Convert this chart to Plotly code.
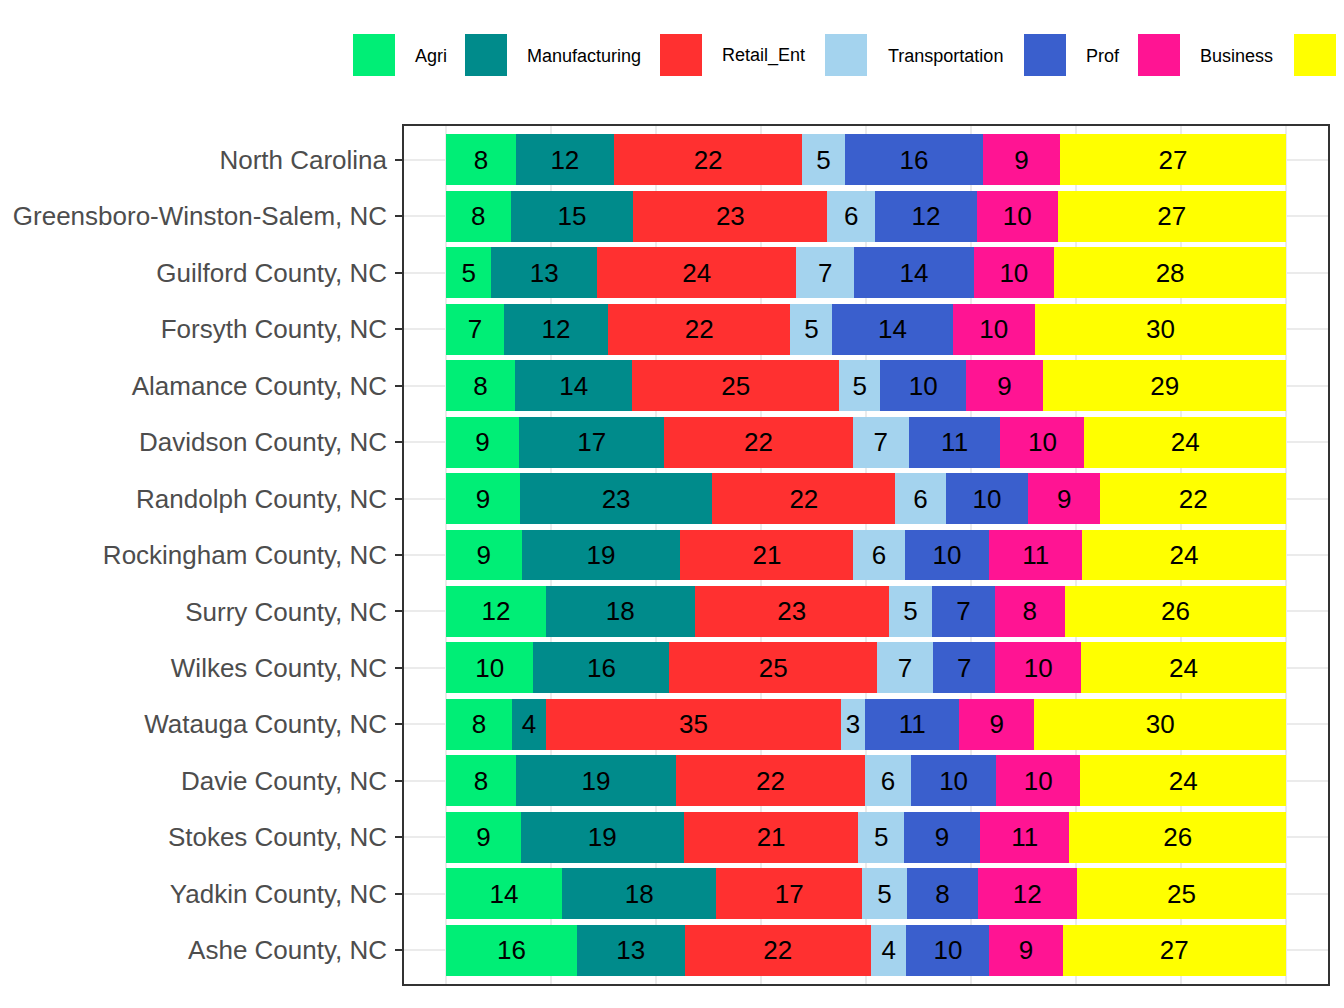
import plotly.graph_objects as go

categories = ["North Carolina", "Greensboro-Winston-Salem, NC", "Guilford County, NC",
              "Forsyth County, NC", "Alamance County, NC", "Davidson County, NC",
              "Randolph County, NC", "Rockingham County, NC", "Surry County, NC",
              "Wilkes County, NC", "Watauga County, NC", "Davie County, NC",
              "Stokes County, NC", "Yadkin County, NC", "Ashe County, NC"]

agri = [8.3, 7.7, 5.4, 6.9, 8.2, 8.7, 8.8, 9.0, 11.9, 10.4, 7.86, 8.33, 8.9, 13.8, 15.6]
manufacturing = [11.7, 14.6, 12.6, 12.4, 14.0, 17.3, 22.9, 18.9, 17.7, 16.2, 4.05, 19.05, 19.4, 18.4, 12.8]
retail_ent = [22.4, 23.1, 23.7, 21.7, 24.6, 22.4, 21.8, 20.6, 23.1, 24.7, 35.1, 22.45, 20.8, 17.3, 22.2]
transportation = [5.1, 5.7, 6.9, 5.0, 4.9, 6.7, 6.0, 6.1, 5.2, 6.7, 2.9, 5.56, 5.4, 5.4, 4.2]
prof = [16.4, 12.1, 14.2, 14.3, 10.2, 10.9, 9.8, 10.1, 7.4, 7.4, 11.2, 10.04, 9.1, 8.4, 9.9]
business = [9.2, 9.6, 9.6, 9.8, 9.2, 10.0, 8.6, 11.0, 8.4, 10.2, 8.93, 10.08, 10.6, 11.8, 8.7]
other = [26.9, 27.2, 27.6, 29.9, 28.9, 24.0, 22.1, 24.3, 26.3, 24.4, 29.96, 24.46, 25.8, 24.9, 26.6]

series_names = ["Agri", "Manufacturing", "Retail_Ent", "Transportation", "Prof", "Business", "Other"]
series_values = [agri, manufacturing, retail_ent, transportation, prof, business, other]
series_colors = ["#00EE76", "#008B8B", "#FF3030", "#A4D3EE", "#3A5FCD", "#FF1493", "#FFFF00"]

FONT = "Liberation Sans, Arial, sans-serif"

fig = go.Figure()
for name, vals, col in zip(series_names, series_values, series_colors):
    fig.add_trace(go.Bar(
        y=categories, x=vals, name=name, orientation="h",
        marker=dict(color=col, line=dict(width=0)),
        width=0.9,
        text=[f"{v:.0f}" for v in vals],
        texttemplate="%{text}",
        textposition="inside", insidetextanchor="middle",
        textangle=0, constraintext="none",
        textfont=dict(family=FONT, size=26, color="black"),
        showlegend=False,
        hoverinfo="x+y+name",
    ))

# page has an 8px body margin: work in reference pixels minus 8
OFF = 8
W, H = 1344 - OFF, 1008 - OFF
L, R, T, B = 404 - OFF, 1328 - OFF, 126 - OFF, 984 - OFF
def px(x):
    return (x - OFF - L) / (R - L)
def py(y):
    return (B - (y - OFF)) / (B - T)

shapes = []
annotations = []
key_left = [353, 465, 660, 825, 1024, 1138, 1294]
text_left = [413, 525, 720, 886, 1084, 1198, None]
for name, col, kl, tl in zip(series_names, series_colors, key_left, text_left):
    shapes.append(dict(type="rect", xref="paper", yref="paper",
                       x0=px(kl), x1=px(kl + 42), y0=py(76), y1=py(34),
                       fillcolor=col, line=dict(width=0), layer="above"))
    if tl is not None:
        annotations.append(dict(xref="paper", yref="paper", x=px(tl), y=py(56),
                                xanchor="left", yanchor="middle", text=name,
                                showarrow=False,
                                font=dict(family=FONT, size=18, color="black")))

fig.update_layout(
    barmode="stack", barnorm="percent",
    width=W, height=H, autosize=False,
    margin=dict(l=L, r=W - R, t=T, b=H - B, pad=0, autoexpand=False),
    paper_bgcolor="white", plot_bgcolor="white",
    font=dict(family=FONT),
    shapes=shapes, annotations=annotations,
    xaxis=dict(range=[-5, 105], dtick=12.5, tick0=0, showticklabels=False, ticks="",
               automargin=False,
               showgrid=True, gridcolor="#EBEBEB", gridwidth=1.5, zeroline=False,
               showline=True, linecolor="#333333", linewidth=1.5, mirror=True, fixedrange=True),
    yaxis=dict(range=[14.6, -0.6], type="category", categoryorder="array", categoryarray=categories,
               automargin=False,
               showgrid=True, gridcolor="#EBEBEB", gridwidth=1.5, zeroline=False,
               ticks="outside", ticklen=7, tickwidth=2, tickcolor="#333333",
               ticklabelstandoff=3,
               tickfont=dict(family=FONT, size=26, color="#4D4D4D"),
               showline=True, linecolor="#333333", linewidth=1.5, mirror=True, fixedrange=True),
)

fig.write_html("out.html")
